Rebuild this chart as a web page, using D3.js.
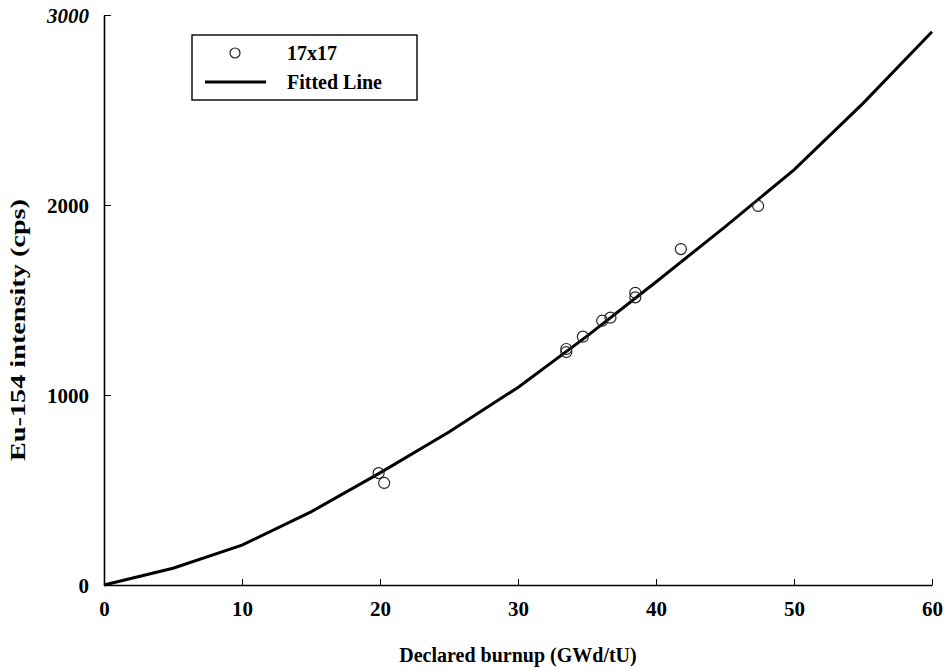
<!DOCTYPE html>
<html>
<head>
<meta charset="utf-8">
<script src="https://cdn.jsdelivr.net/npm/d3@7"></script>
<style>
  body { margin: 0; background: #fff; }
  text { font-family: "Liberation Serif", "Times New Roman", serif; font-weight: bold; }
</style>
</head>
<body>
<div id="chart"></div>
<script>
// measured points (17x17 assemblies)
var burnup = [19.9, 20.3, 33.5, 33.5, 34.7, 36.1, 36.7, 38.5, 38.5, 41.8, 47.4];
var intensity = [589, 537, 1242, 1226, 1307, 1391, 1407, 1538, 1514, 1768, 1995];

// fitted line
var fitX = [0, 5, 10, 15, 20, 25, 30, 35, 40, 45, 50, 55, 60];
var fitY = [0, 88, 210, 385, 590, 805, 1040, 1310, 1595, 1885, 2185, 2535, 2912];

var xTicks = [0, 10, 20, 30, 40, 50, 60];
var yTicks = [0, 1000, 2000, 3000];

var width = 945,
    height = 670;

var svg = d3.select("#chart")
    .append("svg")
    .attr("width", width)
    .attr("height", height)

var x = d3.scaleLinear().domain([0, 60]).range([104, 932])
var y = d3.scaleLinear().domain([0, 3000]).range([585, 15])

// axes
var xAxis = svg.append("g")
    .attr("transform", "translate(0," + y(0) + ")")
    .call(d3.axisBottom(x).tickValues(xTicks).tickFormat(d3.format("d"))
        .tickSizeInner(-6).tickSizeOuter(0).tickPadding(13))
xAxis.select(".domain").attr("stroke-width", 1.6)
xAxis.selectAll("text")
    .style("font-size", "21px")
    .attr("dy", "0.85em")

var yAxis = svg.append("g")
    .attr("transform", "translate(" + x(0) + ",0)")
    .call(d3.axisLeft(y).tickValues(yTicks).tickFormat(d3.format("d"))
        .tickSizeInner(-7).tickSizeOuter(0).tickPadding(15))
yAxis.select(".domain").attr("stroke-width", 1.6)
yAxis.selectAll("text")
    .style("font-size", "21px")
    .attr("dy", "0.35em")
yAxis.selectAll(".tick")
    .filter(function (d) { return d === 3000 })
    .select("text")
    .style("font-style", "italic")

// fitted line
var line = d3.line()
    .x(function (d, i) { return x(fitX[i]) })
    .y(function (d) { return y(d) })

svg.append("path")
    .datum(fitY)
    .attr("d", line)
    .attr("fill", "none")
    .attr("stroke", "#000")
    .attr("stroke-width", 3)

// points
svg.selectAll(".pt")
    .data(burnup)
    .enter().append("circle")
    .attr("class", "pt")
    .attr("cx", function (d) { return x(d) })
    .attr("cy", function (d, i) { return y(intensity[i]) })
    .attr("r", 5.5)
    .attr("fill", "none")
    .attr("stroke", "#222")
    .attr("stroke-width", 1.2)

// legend
var legend = svg.append("g").attr("transform", "translate(192,35)")
legend.append("rect")
    .attr("width", 225)
    .attr("height", 65)
    .attr("fill", "#fff")
    .attr("stroke", "#000")
    .attr("stroke-width", 1.4)
legend.append("circle")
    .attr("cx", 43)
    .attr("cy", 18)
    .attr("r", 5)
    .attr("fill", "none")
    .attr("stroke", "#222")
    .attr("stroke-width", 1.2)
legend.append("line")
    .attr("x1", 13).attr("x2", 74)
    .attr("y1", 47).attr("y2", 47)
    .attr("stroke", "#000")
    .attr("stroke-width", 3)
legend.append("text")
    .attr("x", 95).attr("y", 25)
    .style("font-size", "20px")
    .text("17x17")
legend.append("text")
    .attr("x", 95).attr("y", 54)
    .style("font-size", "20px")
    .text("Fitted Line")

// axis titles
svg.append("text")
    .attr("x", 518)
    .attr("y", 662)
    .attr("text-anchor", "middle")
    .style("font-size", "20px")
    .text("Declared burnup (GWd/tU)")

svg.append("text")
    .attr("transform", "translate(25,330) rotate(-90)")
    .attr("text-anchor", "middle")
    .attr("textLength", 262)
    .attr("lengthAdjust", "spacingAndGlyphs")
    .style("font-size", "20px")
    .text("Eu-154 intensity (cps)")
</script>
</body>
</html>
